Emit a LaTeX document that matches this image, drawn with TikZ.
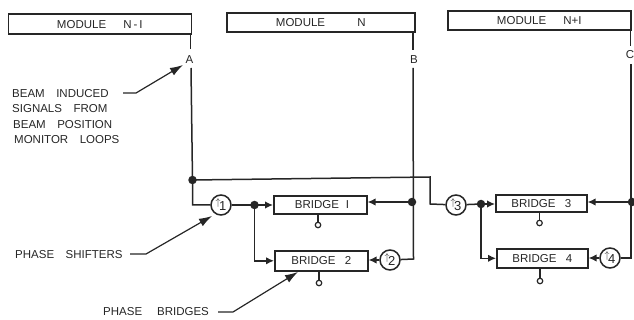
\documentclass[tikz,border=0pt]{standalone}
\usepackage{fontspec}
\setmainfont{Liberation Sans}
\usetikzlibrary{arrows.meta}
\definecolor{ink}{gray}{0.15}
\newcommand{\shiftlab}[1]{\raisebox{2.5pt}{\fontsize{10}{10}\selectfont$\uparrow$}\kern-1.5pt\raisebox{-2.5pt}{\fontsize{13}{13}\selectfont #1}}
\tikzset{
 x=1pt,y=-1pt,
 wire/.style={draw=ink,line width=1.5pt},
 lab/.style={inner sep=0pt,text=ink,font=\fontsize{11.5}{12}\selectfont},
 box/.style={draw=ink,line width=1.6pt,inner sep=0pt,text=ink,font=\fontsize{11.5}{12}\selectfont,anchor=north west},
 shifter/.style={circle,draw=ink,line width=1.5pt,fill=white,minimum size=20pt,inner sep=0pt,text=ink},
 dotn/.style={circle,fill=ink,minimum size=8.5pt,inner sep=0pt},
 pin/.style={circle,draw=ink,line width=1.2pt,fill=white,minimum size=5.5pt,inner sep=0pt},
 tip/.style={wire,-{Latex[length=8pt,width=7.5pt]}},
 ltip/.style={draw=ink,-{Latex[length=13pt,width=8.5pt]},line width=1.2pt},
}
\begin{document}
\begin{tikzpicture}
\useasboundingbox (0,0) rectangle (634,320);
% modules
\node[box,minimum width=183pt,minimum height=20pt] (m1) at (7.5,13.5) {MODULE\hspace{1.5em}N\,-\,I};
\node[box,minimum width=188pt,minimum height=19pt] (m2) at (226,12.5) {MODULE\hspace{2.8em}N\hspace{1.7em}};
\node[box,minimum width=183pt,minimum height=19pt] (m3) at (447,10.5) {MODULE\hspace{1.5em}N+I};
% signal letters
\node[lab] (A) at (189.5,59.5) {A};
\node[lab] (B) at (414,60) {B};
\node[lab] (C) at (630,55) {C};
% bridges
\node[box,minimum width=93pt,minimum height=18pt] (b1) at (273,195) {\hspace{.3em}BRIDGE\hspace{.6em}I};
\node[box,minimum width=93pt,minimum height=20pt] (b2) at (274,250) {BRIDGE\hspace{.8em}2};
\node[box,minimum width=91pt,minimum height=17pt] (b3) at (495,194) {BRIDGE\hspace{.8em}3};
\node[box,minimum width=91pt,minimum height=19pt] (b4) at (496,248) {BRIDGE\hspace{.8em}4};
% shifters
\node[shifter] (t1) at (221,205) {\shiftlab{1}};
\node[shifter] (t2) at (390,260) {\shiftlab{2}};
\node[shifter] (t3) at (456,205) {\shiftlab{3}};
\node[shifter] (t4) at (610,258) {\shiftlab{4}};
% junctions
\node[dotn] (ja) at (192.5,180) {};
\node[dotn] (jb) at (254.5,205) {};
\node[dotn] (jc) at (412,202) {};
\node[dotn] (jd) at (481,204) {};
\node[dotn] (je) at (632,202) {};
% pins
\node[pin] (p1) at (318,225) {};
\node[pin] (p2) at (319,283) {};
\node[pin] (p3) at (539.5,223) {};
\node[pin] (p4) at (540,281) {};
\draw[wire] (b1.south -| p1) -- (p1);
\draw[wire] (b2.south -| p2) -- (p2);
\draw[wire] (b3.south -| p3) -- (p3);
\draw[wire] (b4.south -| p4) -- (p4);
% free coordinates
\coordinate (a1) at (190.5,33.5);
\coordinate (a2) at (190.5,49);
\coordinate (a3) at (191,68);
\coordinate (a4) at (192.5,205);
\coordinate (b1t) at (413,31.5);
\coordinate (b2t) at (413,50);
\coordinate (b3t) at (413,68);
\coordinate (b4t) at (413.5,259);
\coordinate (c1) at (630.5,29);
\coordinate (c2) at (630.5,46);
\coordinate (c3) at (631,64);
\coordinate (c4) at (631,258);
\coordinate (h1) at (430,177);
\coordinate (h2) at (430,204);
% wiring
\draw[wire] (a1) -- (a2);
\draw[wire] (a3) -- (ja.center) -- (a4) -- (t1);
\draw[wire] (b1t) -- (b2t);
\draw[wire] (b3t) -- (b4t) -- (t2);
\draw[wire] (c1) -- (c2);
\draw[wire] (c3) -- (c4) -- (t4);
\draw[wire] (ja.center) -- (h1) -- (h2) -- (t3);
\draw[wire] (t1) -- (jb.center);
\draw[tip] (jb.center) -- (b1.west |- jb);
\draw[tip] (jb.center) |- (b2.west);
\draw[tip] (jc.center) -- (b1.east |- jc);
\draw[tip] (t2) -- (b2.east |- t2);
\draw[wire] (t3) -- (jd.center);
\draw[tip] (jd.center) -- (b3.west |- jd);
\draw[tip] (jd.center) |- (b4.west);
\draw[tip] (je.center) -- (b3.east |- je);
\draw[tip] (t4) -- (b4.east |- t4);
% annotations
\node[lab,anchor=west] (s1) at (12,94) {BEAM\hspace{1em}INDUCED};
\node[lab,anchor=west] (s2) at (12,108.5) {SIGNALS\hspace{1em}FROM};
\node[lab,anchor=west] (s3) at (13,125) {BEAM\hspace{1em}POSITION};
\node[lab,anchor=west] (s4) at (14,140) {MONITOR\hspace{1em}LOOPS};
\node[lab,anchor=west] (ps) at (15,254.5) {PHASE\hspace{1em}SHIFTERS};
\node[lab,anchor=west] (pb) at (103,312) {PHASE\hspace{1.3em}BRIDGES};
\coordinate (e1) at (123,93);
\coordinate (e2) at (136,93);
\coordinate (e3) at (183,65);
\coordinate (f1) at (130,254);
\coordinate (f2) at (146,254);
\coordinate (f3) at (212,216);
\coordinate (g1) at (218,312);
\coordinate (g2) at (233,312);
\coordinate (g3) at (298,272);
\draw[ltip] (e1) -- (e2) -- (e3);
\draw[ltip] (f1) -- (f2) -- (f3);
\draw[ltip] (g1) -- (g2) -- (g3);
\end{tikzpicture}
\end{document}
